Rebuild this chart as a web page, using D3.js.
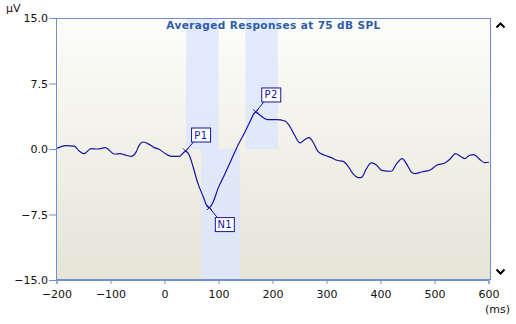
<!DOCTYPE html>
<html>
<head>
<meta charset="utf-8">
<script src="https://cdn.jsdelivr.net/npm/d3@7"></script>
<style>
  html, body { margin: 0; padding: 0; background: #ffffff; }
  svg { display: block; }
</style>
</head>
<body>
<svg id="chart" width="516" height="324"></svg>
<script>
// Averaged evoked response waveform (ms vs µV)
const timeMs = [-200, -183, -167, -158, -149, -136, -124, -109, -103, -93, -81, -75, -62, -53, -47, -40, -31, -19, -10, 2,
  13, 28, 39, 46, 53, 62, 72, 78, 83, 90, 99, 112, 124, 136, 149, 158, 169, 177, 189, 195,
  207, 223, 232, 241, 251, 260, 268, 275, 284, 297, 309, 319, 331, 340, 349, 359, 365, 374, 383, 393,
  402, 420, 430, 440, 448, 457, 464, 476, 491, 504, 519, 528, 539, 547, 556, 565, 573, 584, 593, 601];
const amplitudeUv = [0.05, 0.39, 0.34, -0.23, -0.53, 0.05, 0.0, 0.16, -0.11, -0.57, -0.53, -0.64, -0.84, -0.38, 0.42, 0.80, 0.62, 0.16, -0.03, -0.55,
  -0.84, -0.84, -0.23, -0.72, -2.06, -3.96, -5.50, -6.45, -6.71, -6.07, -4.54, -2.82, -1.21, 0.42, 1.95, 3.09, 4.24, 3.86, 3.40, 3.37,
  3.37, 3.21, 2.60, 1.57, 0.69, 1.08, 1.31, 0.80, -0.26, -0.72, -0.99, -1.29, -1.41, -1.98, -2.82, -3.28, -3.24, -2.25, -1.60, -1.87,
  -2.44, -2.55, -1.67, -1.10, -1.67, -2.63, -2.82, -2.63, -2.44, -1.87, -1.60, -1.21, -0.53, -0.80, -1.10, -0.72, -0.64, -1.21, -1.56, -1.52];

// Peak picks
const peakNames = ["P1", "N1", "P2"];
const peakTimes = [39, 83, 169];
const peakAmps = [-0.23, -6.71, 4.24];

// Latency windows for each peak (start, end in ms; polarity sets the half shaded)
const windowNames = ["P1", "N1", "P2"];
const windowStart = [40, 68, 150];
const windowEnd = [100, 140, 210];
const windowPolarity = [1, -1, 1];

// Axis ticks
const xTicks = [-200, -100, 0, 100, 200, 300, 400, 500, 600];
const yTicks = [-15, -7.5, 0, 7.5, 15];

const titleText = "Averaged Responses at 75 dB SPL";

const svg = d3.select("#chart");
const plot = { left: 56, top: 18, right: 491, bottom: 280 };
const fontFamily = "'DejaVu Sans', Verdana, sans-serif";
const axisBlue = "#6f8fcf";
const traceBlue = "#1414a0";

const x = d3.scaleLinear().domain([-200, 600]).range([56.5, 488.5]);
const y = d3.scaleLinear().domain([-15, 15]).range([plot.bottom, plot.top]);

// Background gradient
const defs = svg.append("defs");
const grad = defs.append("linearGradient").attr("id", "bg").attr("x1", 0).attr("y1", 0).attr("x2", 0).attr("y2", 1);
grad.append("stop").attr("offset", "0%").attr("stop-color", "#fdfdfa");
grad.append("stop").attr("offset", "100%").attr("stop-color", "#e6e4d7");

svg.append("rect")
  .attr("x", plot.left).attr("y", plot.top)
  .attr("width", plot.right - plot.left).attr("height", plot.bottom - plot.top)
  .attr("fill", "url(#bg)");

// Latency windows
svg.append("g").selectAll("rect")
  .data(windowNames.map((n, i) => ({ n, s: windowStart[i], e: windowEnd[i], p: windowPolarity[i] })))
  .join("rect")
  .attr("x", d => x(d.s))
  .attr("width", d => x(d.e) - x(d.s))
  .attr("y", d => d.p > 0 ? y(15) : y(0))
  .attr("height", d => d.p > 0 ? y(0) - y(15) : y(-15) - y(0))
  .attr("fill", "#dde6fb")
  .attr("opacity", 0.85);

// Title
svg.append("text")
  .attr("x", (plot.left + plot.right) / 2)
  .attr("y", 29)
  .attr("text-anchor", "middle")
  .attr("font-family", fontFamily)
  .attr("font-weight", "bold")
  .attr("font-size", "10.5px")
  .attr("letter-spacing", "0.4px")
  .attr("fill", "#2d5ca8")
  .text(titleText);

// Waveform
const line = d3.line().x(d => x(d[0])).y(d => y(d[1])).curve(d3.curveMonotoneX);
svg.append("path")
  .datum(timeMs.map((t, i) => [t, amplitudeUv[i]]))
  .attr("d", line)
  .attr("fill", "none")
  .attr("stroke", traceBlue)
  .attr("stroke-width", 1.2);

// Peak markers with labels
const labelOffset = { P1: [6, -16], N1: [6, 17], P2: [6, -17] };
const peaks = svg.append("g");
peakNames.forEach((name, i) => {
  const px = x(peakTimes[i]), py = y(peakAmps[i]);
  const off = labelOffset[name];
  const bx = px + off[0], by = py + off[1];
  const bw = 19, bh = 14;
  // leader line
  peaks.append("line")
    .attr("x1", px).attr("y1", py)
    .attr("x2", bx + 2).attr("y2", off[1] < 0 ? by + bh / 2 : by - bh / 2)
    .attr("stroke", traceBlue).attr("stroke-width", 1);
  // cross marker
  peaks.append("path")
    .attr("d", `M${px - 2.5},${py - 2.5}L${px + 2.5},${py + 2.5}M${px - 2.5},${py + 2.5}L${px + 2.5},${py - 2.5}`)
    .attr("stroke", traceBlue).attr("stroke-width", 1);
  peaks.append("rect")
    .attr("x", bx).attr("y", by - bh / 2)
    .attr("width", bw).attr("height", bh)
    .attr("fill", "#ffffff").attr("stroke", traceBlue).attr("stroke-width", 1);
  peaks.append("text")
    .attr("x", bx + bw / 2).attr("y", by + 3.5)
    .attr("text-anchor", "middle")
    .attr("font-family", fontFamily)
    .attr("font-size", "10px")
    .attr("letter-spacing", "0.5px")
    .attr("fill", traceBlue)
    .text(name);
});

// Plot frame
svg.append("rect")
  .attr("x", plot.left + 0.5).attr("y", plot.top + 0.5)
  .attr("width", plot.right - plot.left - 1).attr("height", plot.bottom - plot.top - 1)
  .attr("fill", "none").attr("stroke", axisBlue).attr("stroke-width", 1);

// Axes
const yAxis = svg.append("g")
  .attr("transform", `translate(${plot.left},0)`)
  .call(d3.axisLeft(y).tickValues(yTicks).tickFormat(d3.format(".1f")).tickSize(7).tickPadding(1));
const xAxis = svg.append("g")
  .attr("transform", `translate(0,${plot.bottom})`)
  .call(d3.axisBottom(x).tickValues(xTicks).tickFormat(d3.format("d")).tickSize(4).tickPadding(6));

[yAxis, xAxis].forEach(g => {
  g.select(".domain").attr("stroke", axisBlue);
  g.selectAll(".tick line").attr("stroke", axisBlue);
  g.selectAll(".tick text")
    .attr("fill", "#111")
    .attr("font-family", fontFamily)
    .attr("font-size", "11px");
});
yAxis.selectAll(".tick text").attr("dy", "0.36em");

// Unit labels
svg.append("text").attr("x", 6).attr("y", 12)
  .attr("font-family", fontFamily).attr("font-size", "11px").attr("fill", "#111")
  .text("µV");
svg.append("text").attr("x", 510).attr("y", 313)
  .attr("text-anchor", "end")
  .attr("font-family", fontFamily).attr("font-size", "11px").attr("fill", "#111")
  .text("(ms)");

// Scroll chevrons
svg.append("path")
  .attr("d", "M496.5,27.5L500.5,23.5L504.5,27.5")
  .attr("fill", "none").attr("stroke", "#000").attr("stroke-width", 2);
svg.append("path")
  .attr("d", "M496.5,269.5L500.5,273.5L504.5,269.5")
  .attr("fill", "none").attr("stroke", "#000").attr("stroke-width", 2);
</script>
</body>
</html>
